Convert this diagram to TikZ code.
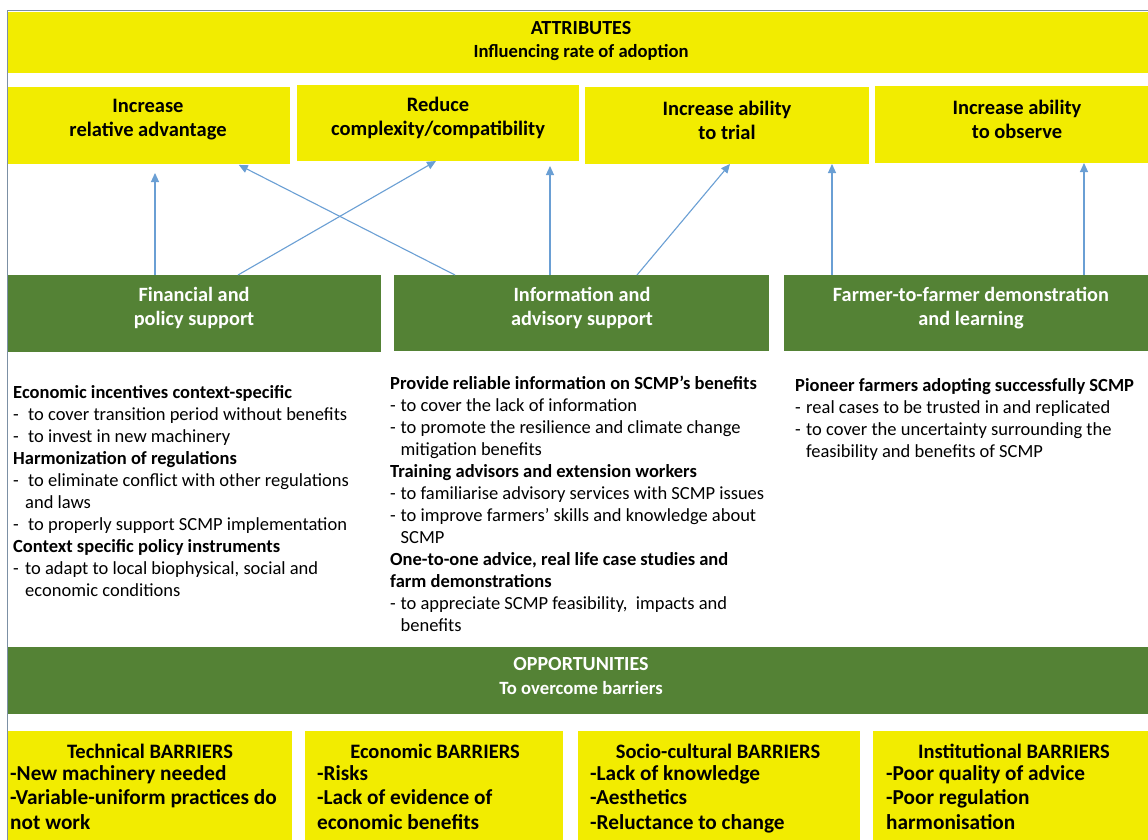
\documentclass[tikz,border=0pt]{standalone}
\usepackage{fontspec}
\setmainfont{Carlito}
\usetikzlibrary{arrows.meta,calc}
\definecolor{ylw}{HTML}{F2EC00}
\definecolor{grn}{HTML}{548235}
\definecolor{arr}{HTML}{6A9FD4}
\definecolor{frm}{HTML}{7C90A5}
\newcommand\dashitem[2][10.5pt]{\makebox[#1][l]{-}#2}
\newcommand\contline[2][10.5pt]{\hspace*{#1}#2}
\begin{document}
\begin{tikzpicture}[x=1pt,y=-1pt,
 ybox/.style={fill=ylw, draw=none, anchor=north west, inner sep=0pt, outer sep=0pt},
 gbox/.style={fill=grn, draw=none, anchor=north west, inner sep=0pt, outer sep=0pt},
 ylab/.style={font=\bfseries\fontsize{20.5}{24}\selectfont, align=center, inner sep=0pt, text=black},
 glab/.style={font=\bfseries\fontsize{20.3}{24}\selectfont, align=center, inner sep=0pt, text=white},
 body/.style={font=\fontsize{18.5}{22.05}\selectfont, align=left, anchor=north west, inner sep=0pt},
 blist/.style={font=\bfseries\fontsize{21.3}{24.5}\selectfont, align=left, anchor=north west, inner sep=0pt},
 btitle/.style={font=\bfseries\fontsize{20.5}{24.5}\selectfont, inner sep=0pt},
 link/.style={draw=arr, line width=1.1pt, -{Triangle[length=9pt,width=8pt]}},
]
\useasboundingbox (0,0) rectangle (1148,840);
\clip (0,0) rectangle (1148,840);
\fill[white] (0,0) rectangle (1148,840);
\draw[frm, line width=1.2pt] (7.5,850) -- (7.5,10.5) -- (1160,10.5);

% top banner
\node[ybox, minimum width=1140pt, minimum height=61pt] (attr) at (8,12) {};
\node[ylab, font=\bfseries\fontsize{20}{23}\selectfont] (attrlab) at (581,41.5) {ATTRIBUTES\\{\fontsize{18.6}{23}\selectfont Influencing rate of adoption}};

% attribute boxes
\node[ybox, minimum width=282pt, minimum height=77pt] (att1) at (8,87) {};
\node[ybox, minimum width=282pt, minimum height=76pt] (att2) at (297,85) {};
\node[ybox, minimum width=284pt, minimum height=77pt] (att3) at (585,87) {};
\node[ybox, minimum width=273pt, minimum height=77pt] (att4) at (875,86) {};
\node[ylab] (att1lab) at (148,120) {Increase\\relative advantage};
\node[ylab] (att2lab) at (438,118) {Reduce\\complexity/compatibility};
\node[ylab] (att3lab) at (727,120) {Increase ability\\to trial};
\node[ylab] (att4lab) at (1017,119) {Increase ability\\to observe};

% support boxes
\node[gbox, minimum width=373pt, minimum height=77pt] (fin) at (8,275) {};
\node[gbox, minimum width=375pt, minimum height=76pt] (info) at (394,275) {};
\node[gbox, minimum width=364pt, minimum height=76pt] (farm) at (784,275) {};
\node[glab] (finlab) at (194,308) {Financial and\\policy support};
\node[glab] (infolab) at (582,308) {Information and\\advisory support};
\node[glab] (farmlab) at (971,308) {Farmer-to-farmer demonstration\\and learning};

% arrows
\draw[link, shorten >=9pt] (155,0 |- fin.north) -- (155,0 |- att1.south);
\draw[link] (238,0 |- fin.north) -- (436,0 |- att2.south);
\draw[link, shorten >=2pt] (455,0 |- info.north) -- (237,0 |- att1.south);
\draw[link, shorten >=5pt] (550,0 |- info.north) -- (550,0 |- att2.south);
\draw[link] (637,0 |- info.north) -- (730,0 |- att3.south);
\draw[link] (832,0 |- farm.north) -- (832,0 |- att3.south);
\draw[link] (1084,0 |- farm.north) -- (1084,0 |- att4.south);

% body texts
\node[body] (txt1) at (13,385) {%
\textbf{Economic incentives context-specific}\\
\dashitem[15pt]{to cover transition period without benefits}\\
\dashitem[15pt]{to invest in new machinery}\\
\textbf{Harmonization of regulations}\\
\dashitem[15pt]{to eliminate conflict with other regulations}\\
\contline[12pt]{and laws}\\
\dashitem[15pt]{to properly support SCMP implementation}\\
\textbf{Context specific policy instruments}\\
\dashitem[12pt]{to adapt to local biophysical, social and}\\
\contline[12pt]{economic conditions}};

\node[body] (txt2) at (390,375.5) {%
\textbf{Provide reliable information on SCMP’s benefits}\\
\dashitem{to cover the lack of information}\\
\dashitem{to promote the resilience and climate change}\\
\contline{mitigation benefits}\\
\textbf{Training advisors and extension workers}\\
\dashitem{to familiarise advisory services with SCMP issues}\\
\dashitem{to improve farmers’ skills and knowledge about}\\
\contline{SCMP}\\
\textbf{One-to-one advice, real life case studies and}\\
\textbf{farm demonstrations}\\
\dashitem{to appreciate SCMP feasibility,\ \ impacts and}\\
\contline{benefits}};

\node[body] (txt3) at (795,378.5) {%
\textbf{Pioneer farmers adopting successfully SCMP}\\
\dashitem[11pt]{real cases to be trusted in and replicated}\\
\dashitem[11pt]{to cover the uncertainty surrounding the}\\
\contline[11pt]{feasibility and benefits of SCMP}};

% opportunities banner
\node[gbox, minimum width=1140pt, minimum height=67pt] (opp) at (8,647) {};
\node[glab, font=\bfseries\fontsize{20}{24}\selectfont] (opplab) at (581,676) {OPPORTUNITIES\\{\fontsize{18.7}{24}\selectfont To overcome barriers}};

% barrier boxes
\node[ybox, minimum width=284pt, minimum height=109pt] (b1) at (8,731) {};
\node[ybox, minimum width=258pt, minimum height=109pt] (b2) at (305,731) {};
\node[ybox, minimum width=282pt, minimum height=109pt] (b3) at (578,731) {};
\node[ybox, minimum width=275pt, minimum height=109pt] (b4) at (873,731) {};

\node[btitle] (b1t) at (150,751) {Technical BARRIERS};
\node[btitle] (b2t) at (435,751) {Economic BARRIERS};
\node[btitle] (b3t) at (718,751) {Socio-cultural BARRIERS};
\node[btitle] (b4t) at (1014,751) {Institutional BARRIERS};

\node[blist] (b1l) at (10,765) {-New machinery needed\\-Variable-uniform practices do\\not work};
\node[blist] (b2l) at (317,765) {-Risks\\-Lack of evidence of\\economic benefits};
\node[blist] (b3l) at (590,765) {-Lack of knowledge\\-Aesthetics\\-Reluctance to change};
\node[blist] (b4l) at (886,765) {-Poor quality of advice\\-Poor regulation\\harmonisation};
\end{tikzpicture}
\end{document}
